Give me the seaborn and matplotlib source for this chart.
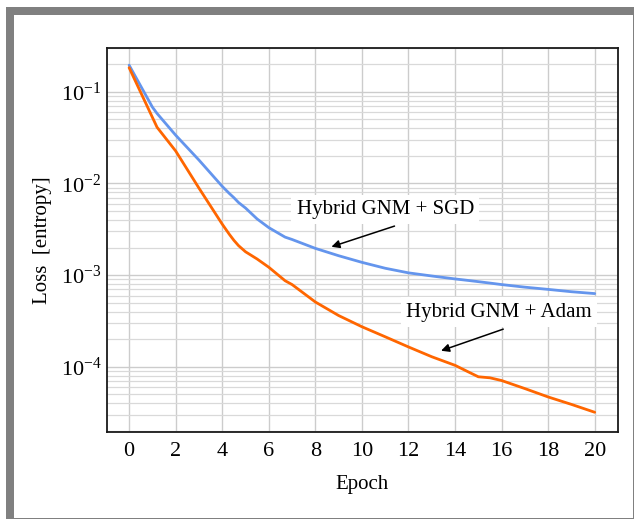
import numpy as np
import pandas as pd
import matplotlib
matplotlib.use('Agg')
import matplotlib.pyplot as plt
from matplotlib.patches import Rectangle
from matplotlib.ticker import LogLocator, NullFormatter
import seaborn as sns

epochs = [0, 1, 1.2, 2, 3, 4, 4.3, 4.5, 4.7, 5, 5.5, 6, 6.7, 7, 8, 9, 10, 11, 12, 13, 14, 14.5, 15, 15.5,
          16, 17, 18, 19, 20]
loss_sgd = [0.195, 0.068, 0.058, 0.0336, 0.018, 0.0093, 0.0078, 0.0070, 0.0062, 0.0054, 0.0041, 0.0033,
            0.0026, 0.00245, 0.00196, 0.00163, 0.00138, 0.00119, 0.00106, 0.00098, 0.00091, 0.00088,
            0.00085, 0.00082, 0.00079, 0.00074, 0.00070, 0.00066, 0.00063]
loss_adam = [0.183, 0.0526, 0.041, 0.0226, 0.0089, 0.0036, 0.0028, 0.0024, 0.0021, 0.0018, 0.0015,
             0.00122, 0.00087, 0.00079, 0.00051, 0.000363, 0.000274, 0.000213, 0.000165, 0.000129,
             0.000104, 0.000090, 0.000078, 0.000076, 0.000071, 0.000058, 0.000047, 0.000039, 0.000032]
series_names = ['Hybrid GNM + SGD', 'Hybrid GNM + Adam']
xticks = list(range(0, 21, 2))

df = pd.DataFrame({
    'Epoch': epochs * 2,
    'Loss': loss_sgd + loss_adam,
    'Method': [series_names[0]] * len(epochs) + [series_names[1]] * len(epochs),
})

sns.set_theme(style='whitegrid')
plt.rcParams['font.family'] = ['Liberation Serif', 'DejaVu Serif']
plt.rcParams['mathtext.fontset'] = 'custom'
plt.rcParams['mathtext.rm'] = 'Liberation Serif'
plt.rcParams['mathtext.it'] = 'Liberation Serif:italic'
plt.rcParams['text.color'] = 'black'
plt.rcParams['axes.labelcolor'] = 'black'

fig = plt.figure(figsize=(6.35, 5.19), dpi=100)
# grey frame round the figure
fig.patches.append(Rectangle((6/635, 0), 628/635, 512/519, transform=fig.transFigure,
                             facecolor='#808080', edgecolor='none', zorder=-10))
fig.patches.append(Rectangle((14/635, 1/519), 619/635, 503/519, transform=fig.transFigure,
                             facecolor='white', edgecolor='none', zorder=-9))

ax = fig.add_axes([107/635, 87/519, 511/635, 384/519])
sns.lineplot(data=df, x='Epoch', y='Loss', hue='Method', ax=ax,
             palette={series_names[0]: '#6495ED', series_names[1]: '#FF6600'},
             linewidth=2, legend=False)

ax.set_yscale('log')
ax.set_ylim(1.95e-5, 0.3)
ax.set_xlim(-0.95, 21.0)
ax.set_xticks(xticks)
ax.yaxis.set_major_locator(LogLocator(base=10, numticks=10))
ax.yaxis.set_minor_locator(LogLocator(base=10, subs=np.arange(2, 10), numticks=20))
ax.yaxis.set_minor_formatter(NullFormatter())

ax.grid(True, which='major', color='#cccccc', linewidth=1)
ax.grid(True, which='minor', axis='y', color='#d9d9d9', linewidth=0.9)
ax.set_facecolor('white')
for s in ax.spines.values():
    s.set_color('#1a1a1a')
    s.set_linewidth(1.3)
ax.tick_params(axis='both', which='both', length=0, labelsize=16, colors='black')
ax.tick_params(axis='x', pad=7)
ax.tick_params(axis='y', pad=4)

ax.set_xlabel('Epoch', fontsize=15, labelpad=10)
ax.set_ylabel('Loss  [entropy]', fontsize=15, labelpad=6)

bbox = dict(boxstyle='square,pad=0.25', facecolor='white', edgecolor='none')
arrow = dict(arrowstyle='-|>', color='black', lw=1.1, shrinkA=0, shrinkB=0, mutation_scale=12)

ax.text(11.0, 0.0052, series_names[0], fontsize=15, ha='center', va='center', bbox=bbox)
ax.annotate('', xy=(8.69, 0.00204), xytext=(11.4, 0.00343), arrowprops=arrow)

ax.text(15.9, 0.000396, series_names[1], fontsize=15, ha='center', va='center', bbox=bbox)
ax.annotate('', xy=(13.4, 0.00015), xytext=(16.07, 0.000258), arrowprops=arrow)

fig.savefig('out.png', dpi=100)
